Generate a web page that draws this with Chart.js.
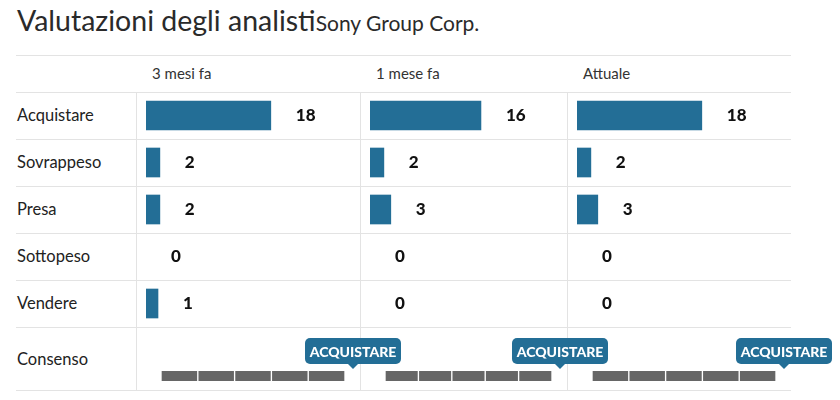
<!DOCTYPE html>
<html>
<head>
<meta charset="utf-8">
<script src="https://cdn.jsdelivr.net/npm/chart.js@4.4.1/dist/chart.umd.min.js"></script>
<style>
  body { margin: 0; background: #fff; font-family: Lato, sans-serif; color: #222; }
  #wrap { position: relative; width: 840px; height: 400px; overflow: hidden; }
  .hline { position: absolute; left: 16px; width: 775px; height: 1px; background: #e3e3e3; }
  .vline { position: absolute; top: 92px; width: 1px; height: 298px; background: #e3e3e3; }
  .title { position: absolute; left: 17px; top: 0; height: 40px; line-height: 40px; font-size: 28.5px; white-space: nowrap; color: #2a2a2a; }
  .title span { font-size: 21px; }
  .head { position: absolute; top: 55px; height: 37px; line-height: 37px; font-size: 15px; color: #333; }
  .row { position: absolute; left: 17px; font-size: 16.5px; }
  canvas { position: absolute; }
</style>
</head>
<body>
<div id="wrap">
  <div class="title">Valutazioni degli analisti<span>Sony Group Corp.</span></div>
</div>
<script>
const ratings = ["Acquistare", "Sovrappeso", "Presa", "Sottopeso", "Vendere"];
const periods = ["3 mesi fa", "1 mese fa", "Attuale"];
const threeMonthsAgo = [18, 2, 2, 0, 1];
const oneMonthAgo = [16, 2, 3, 0, 0];
const current = [18, 2, 3, 0, 0];
const consensusLabels = ["ACQUISTARE", "ACQUISTARE", "ACQUISTARE"];
const consensusScore = [5, 5, 5];
const consensusSteps = [1, 1, 1, 1, 1];

const series = [threeMonthsAgo, oneMonthAgo, current];
const blue = "#236e96";
const wrap = document.getElementById("wrap");

// table layout
const colLeft = [137, 361, 568];
const colRight = [360, 567, 791];
const rowTops = [92, 139, 186, 233, 280];

[55, 92, 139, 186, 233, 280, 327, 390].forEach((y) => {
  const d = document.createElement("div");
  d.className = "hline";
  d.style.top = y + "px";
  wrap.appendChild(d);
});
[136, 360, 567].forEach((x) => {
  const d = document.createElement("div");
  d.className = "vline";
  d.style.left = x + "px";
  wrap.appendChild(d);
});
periods.forEach((p, i) => {
  const d = document.createElement("div");
  d.className = "head";
  d.style.left = colLeft[i] + 15 + "px";
  d.textContent = p;
  wrap.appendChild(d);
});
ratings.concat(["Consenso"]).forEach((r, i) => {
  const d = document.createElement("div");
  d.className = "row";
  const top = i < 5 ? rowTops[i] : 328;
  const h = i < 5 ? 47 : 62;
  d.style.top = top + "px";
  d.style.height = h + "px";
  d.style.lineHeight = h + "px";
  d.textContent = r;
  wrap.appendChild(d);
});

function addCanvas(left, top, width, height) {
  const c = document.createElement("canvas");
  c.width = width;
  c.height = height;
  c.style.left = left + "px";
  c.style.top = top + "px";
  wrap.appendChild(c);
  return c;
}

const valueLabels = {
  id: "valueLabels",
  afterDatasetsDraw(chart) {
    const ctx = chart.ctx;
    const data = chart.data.datasets[0].data;
    const zero = chart.scales.x.getPixelForValue(0);
    ctx.save();
    ctx.font = "900 17px Lato";
    ctx.fillStyle = "#111";
    ctx.textBaseline = "middle";
    chart.getDatasetMeta(0).data.forEach((bar, i) => {
      const end = data[i] === 0 ? zero : bar.x;
      ctx.fillText(data[i], end + 25, bar.y);
    });
    ctx.restore();
  },
};

series.forEach((values, i) => {
  new Chart(addCanvas(colLeft[i] + 9, 92, 190, 235), {
    type: "bar",
    data: {
      labels: ratings,
      datasets: [
        {
          data: values,
          backgroundColor: (c) => (c.raw === 0 ? "rgba(0,0,0,0)" : blue),
          barThickness: 29,
          minBarLength: 12,
        },
      ],
    },
    options: {
      indexAxis: "y",
      responsive: false,
      animation: false,
      layout: { padding: 0 },
      scales: {
        x: { display: false, min: 0, max: 27.4 },
        y: { display: false },
      },
      plugins: { legend: { display: false }, tooltip: { enabled: false } },
    },
    plugins: [valueLabels],
  });
});

function consensusBadge(i) {
  return {
    id: "badge" + i,
    afterDraw(chart) {
      const ctx = chart.ctx;
      const x = chart.scales.x.getPixelForValue(consensusScore[i]) + 8;
      const top = 10, w = 96, h = 26;
      ctx.save();
      ctx.fillStyle = blue;
      ctx.beginPath();
      ctx.roundRect(x - w / 2, top, w, h, 5);
      ctx.fill();
      ctx.beginPath();
      ctx.moveTo(x - 5, top + h);
      ctx.lineTo(x + 5, top + h);
      ctx.lineTo(x, top + h + 5);
      ctx.fill();
      ctx.fillStyle = "#fff";
      ctx.font = "900 14px Lato";
      ctx.textAlign = "center";
      ctx.textBaseline = "middle";
      ctx.fillText(consensusLabels[i], x, top + h / 2 + 1);
      ctx.restore();
    },
  };
}

consensusLabels.forEach((label, i) => {
  const barWidth = colRight[i] - colLeft[i] - 39;
  new Chart(addCanvas(colLeft[i] + 24, 328, barWidth + 60, 62), {
    type: "bar",
    data: {
      labels: ["Consenso"],
      datasets: consensusSteps.map((v) => ({
        data: [v],
        backgroundColor: "#666",
        borderColor: "#fff",
        borderWidth: { left: 1, right: 1 },
        borderSkipped: false,
        barThickness: 10,
      })),
    },
    options: {
      indexAxis: "y",
      responsive: false,
      animation: false,
      layout: { padding: { left: 0, right: 60, top: 38, bottom: 4 } },
      scales: {
        x: { display: false, stacked: true, min: 0, max: consensusSteps.length },
        y: { display: false, stacked: true },
      },
      plugins: { legend: { display: false }, tooltip: { enabled: false } },
    },
    plugins: [consensusBadge(i)],
  });
});
</script>
</body>
</html>
